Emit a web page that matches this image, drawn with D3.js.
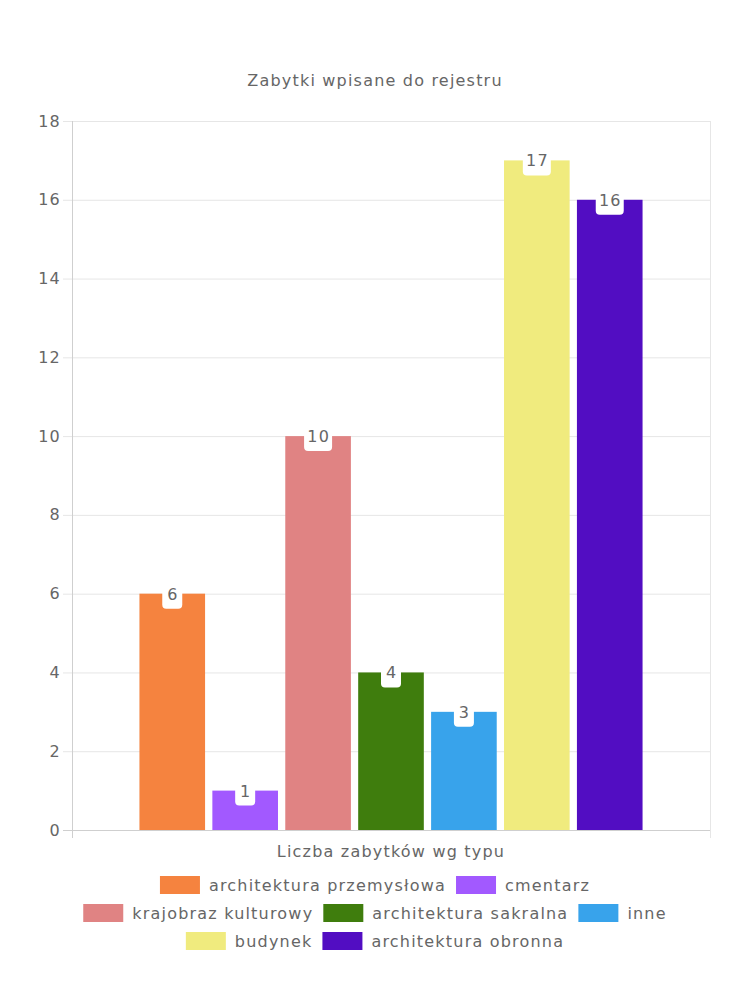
<!DOCTYPE html>
<html><head><meta charset="utf-8">
<script src="https://cdn.jsdelivr.net/npm/d3@7"></script>
<style>
html,body{margin:0;padding:0;background:#fff;}
svg{display:block;font-family:"DejaVu Sans",sans-serif;}
</style></head>
<body>
<svg id="chart" width="750" height="1000"></svg>
<script>
const title = "Zabytki wpisane do rejestru";
const category = "Liczba zabytków wg typu";
const seriesNames = ["architektura przemysłowa","cmentarz","krajobraz kulturowy","architektura sakralna","inne","budynek","architektura obronna"];
const seriesValues = [6,1,10,4,3,17,16];
const seriesColors = ["#F5833F","#A259FF","#E08383","#3F7D0D","#38A3EB","#F0EB7E","#520DC2"];
const yTicks = [0,2,4,6,8,10,12,14,16,18];

(function(){
const svg = d3.select("#chart");
const pL = 72, pR = 710, pT = 121, pB = 830;
const txt = "#666";
const fs = 16;
const ls = 1.2;

const y = d3.scaleLinear().domain([0,18]).range([pB, pT]);
const groupW = (pR-pL)*0.8;
const groupX = pL + (pR-pL-groupW)/2;
const x1 = d3.scaleBand().domain(seriesNames).range([groupX, groupX+groupW]).paddingInner(0.1).paddingOuter(0.05);

function T(sel){ return sel.attr("fill", txt).attr("font-size", fs).attr("letter-spacing", ls); }

T(svg.append("text").attr("x", 375).attr("y", 86).attr("text-anchor","middle")).text(title);

const g = svg.append("g");
g.selectAll("line.grid").data(yTicks).join("line")
  .attr("x1", pL-9).attr("x2", pR).attr("y1", d=>y(d)+0.5).attr("y2", d=>y(d)+0.5)
  .attr("stroke", d=> d===0 ? "#cfcfcf" : "#e6e6e6").attr("stroke-width",1);
[pL, pR].forEach((xx,i)=>{
  g.append("line").attr("x1", xx+0.5).attr("x2", xx+0.5).attr("y1", pT).attr("y2", pB+8)
   .attr("stroke", i===0 ? "#cfcfcf" : "#e6e6e6");
});
T(g.selectAll("text.yl").data(yTicks).join("text")
  .attr("x", 61).attr("y", d=>y(d)).attr("dy","0.35em").attr("text-anchor","end")).text(d=>d);

const bars = svg.append("g");
bars.selectAll("rect").data(seriesNames).join("rect")
  .attr("x", d=>x1(d)).attr("width", x1.bandwidth())
  .attr("y", (d,i)=>y(seriesValues[i])).attr("height", (d,i)=>pB - y(seriesValues[i]))
  .attr("fill", (d,i)=>seriesColors[i]);

const lab = svg.append("g");
seriesNames.forEach((d,i)=>{
  const cx = x1(d)+x1.bandwidth()/2;
  const ty = y(seriesValues[i]);
  const t = String(seriesValues[i]);
  const w = t.length>1 ? 28 : 20;
  lab.append("rect").attr("x", cx-w/2).attr("y", ty-10).attr("width", w).attr("height", 25)
    .attr("rx", 4).attr("fill", "#fff");
  T(lab.append("text").attr("x", cx+ls/2).attr("y", ty+6).attr("text-anchor","middle")).text(t);
});

T(svg.append("text").attr("x", (pL+pR)/2).attr("y", 857).attr("text-anchor","middle")).text(category);

const leg = svg.append("g");
const boxW = 40, boxH = 18, gapBT = 9, gapItem = 10, maxW = 640;
const tmp = T(leg.append("text"));
const items = seriesNames.map((n,i)=>{ tmp.text(n); return {n, i, w: boxW+gapBT+tmp.node().getComputedTextLength()}; });
tmp.remove();
const rows = [[]]; let cur = 0;
items.forEach(it=>{
  const add = (rows[rows.length-1].length ? gapItem : 0) + it.w;
  if (cur + add > maxW && rows[rows.length-1].length) { rows.push([]); cur = 0; }
  cur += (rows[rows.length-1].length ? gapItem : 0) + it.w;
  rows[rows.length-1].push(it);
});
rows.forEach((row, r)=>{
  const tw = d3.sum(row, d=>d.w) + gapItem*(row.length-1);
  let xx = 375 - tw/2;
  const cy = 885 + r*28;
  row.forEach(it=>{
    leg.append("rect").attr("x", xx).attr("y", cy-boxH/2).attr("width", boxW).attr("height", boxH)
      .attr("fill", seriesColors[it.i]);
    T(leg.append("text").attr("x", xx+boxW+gapBT).attr("y", cy).attr("dy","0.35em")).text(it.n);
    xx += it.w + gapItem;
  });
});
})();
</script>
</body></html>
